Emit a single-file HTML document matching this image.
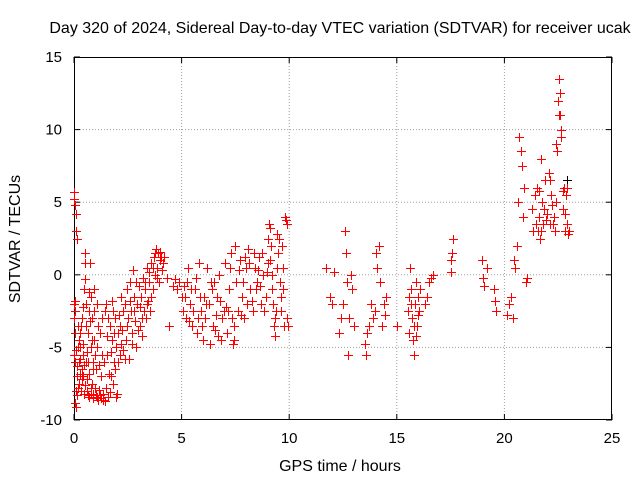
<!DOCTYPE html>
<html><head><meta charset="utf-8">
<style>
html,body{margin:0;padding:0;background:#fff;}
svg{display:block;font-family:"Liberation Sans",sans-serif;}
</style></head>
<body>
<svg id="chart" width="640" height="480" viewBox="0 0 640 480">
<rect x="0" y="0" width="640" height="480" fill="#fff"/>
<text x="340" y="33" font-size="16" text-anchor="middle">Day 320 of 2024, Sidereal Day-to-day VTEC variation (SDTVAR) for receiver ucak</text>
<g id="grid"></g>
<g id="axes"></g>
<g id="black-series"></g>
<g id="red-series"></g>
<text x="340" y="471" font-size="16" text-anchor="middle">GPS time / hours</text>
<text x="0" y="0" font-size="16" text-anchor="middle" transform="translate(20,239) rotate(-90)">SDTVAR / TECUs</text>
</svg>
<script>
const xTicks=[0,5,10,15,20,25];
const yTicks=[-10,-5,0,5,10,15];
const xTickLabels=["0","5","10","15","20","25"];
const yTickLabels=["-10","-5","0","5","10","15"];
const redPairs=[0.0,5.7,0.02,5.2,0.05,4.8,0.08,4.2,0.1,3.0,0.12,2.5,0.0,-2,0.02,-3,0.05,-4,0.0,-5.5,0.03,-6,0.05,-8.8,0.08,-9.1,0.1,-8,0.15,-7,0.18,-5,0.2,-3.5,0.22,-6,0.25,-7.5,0.28,-5,0.3,-4,0.32,-8,0.35,-6.5,0.38,-3,0.4,-7,0.42,-5.5,0.45,-8.2,0.48,-1,0.5,1.5,0.52,0.8,0.55,-2,0.58,-6,0.6,-8,0.62,-7.2,0.65,-4,0.68,-2.5,0.7,-6.8,0.72,-8.4,0.75,0.8,0.78,-1.5,0.8,-5,0.82,-7.5,0.85,-3,0.88,-8.5,0.9,-6,0.92,-1,0.95,-4.5,0.98,-7.8,1.0,-8.3,1.05,-2,1.08,-5,1.1,-8.6,1.15,-7.9,1.2,-4,1.25,-8.5,1.3,-3,1.35,-8.2,1.4,-6,1.45,-8.7,1.5,-2,1.55,-5.5,1.6,-8.4,1.65,-3.5,1.7,-7,1.75,-4.5,1.8,-2.5,1.85,-6,1.9,-3,1.95,-5,2.0,-8.2,2.05,-4,2.1,-2.8,2.15,-5.5,2.2,-1.5,2.25,-3.8,2.3,-5.2,2.35,-2,2.4,-4.5,2.45,-1,2.5,-3,2.55,-5.8,2.6,-0.5,2.65,-2.5,2.7,-4,2.75,0.3,2.8,-1.5,2.85,-3.2,2.9,-5,2.95,-2,3.0,-0.8,3.05,-3.5,3.1,-1.5,3.15,-4.2,3.2,-0.2,3.25,-2.5,3.3,-1,3.35,-3,3.4,0.5,3.45,-1.8,3.5,-0.5,3.55,-2.5,3.6,0.8,3.65,-1,3.7,1.2,3.75,0,3.8,1.8,3.85,0.5,3.9,1.5,3.95,-0.5,4.0,1.6,4.1,0.3,4.2,1.2,4.3,-0.2,4.4,-3.5,4.6,-0.8,4.7,-0.3,4.8,-1,4.9,-0.5,5.0,-1.5,
5.1,-0.8,5.2,-3,5.3,0.5,5.4,-2,5.5,-3.5,5.6,-1,5.7,-4,5.8,0.8,5.9,-2.5,6.0,-4.5,6.05,-1.5,6.1,-3,6.2,0.5,6.25,-2,6.3,-4.8,6.4,-1,6.45,-3.5,6.5,-0.5,6.6,-2.8,6.7,-4.2,6.75,0,6.8,-1.8,6.9,-3,7.0,0.8,7.05,-2.2,7.1,-4,7.2,-1,7.3,1.5,7.35,-3,7.4,-4.8,7.45,-4.5,7.5,2,7.55,-0.5,7.6,-2.5,7.7,1,7.8,-1.5,7.9,-3,8.0,0.5,8.1,1.8,8.2,-1,8.3,-2.5,8.4,0.5,8.5,-0.5,8.6,1.2,8.7,-2,8.8,0,8.9,-1.5,9.0,0.8,9.05,3.5,9.1,3.2,9.15,2,9.2,0,9.25,-2,9.3,-3.5,9.35,-4.2,9.4,-2.5,9.45,2.8,9.5,1.5,9.55,-0.5,9.6,-1.5,9.65,2,9.7,0.5,9.8,4,9.85,3.8,9.9,-3,9.95,-3.5,
11.7,0.5,11.9,-1.5,12.0,-2,12.1,0.2,12.3,-4,12.4,-3,12.5,-2,12.6,3,12.65,1.5,12.7,-0.5,12.75,-5.5,12.8,-3,12.85,0,12.9,-1,13.0,-3.5,13.5,-4.8,13.55,-5.5,13.6,-4,13.7,-3.5,13.8,-2,13.9,-3,14.0,-2.5,14.05,1.5,14.1,0.5,14.15,2,14.2,-0.5,14.3,-3.5,14.4,-2,14.45,-2.8,14.5,-1.5,15.0,-3.5,15.5,-2.5,15.55,-4,15.6,0.5,15.65,-1,15.7,-3,15.75,-4.5,15.8,-5.5,15.85,-2,15.9,-0.5,15.95,-3.5,16.0,-1.5,16.05,-2.5,16.1,-1,16.3,-2,16.4,-1.5,16.5,-0.5,16.6,-0.2,16.7,0,17.5,0.2,17.55,1.5,17.6,2.5,17.5,1,18.95,1,19.0,-0.2,19.05,-0.8,19.2,0.5,19.5,-1,19.55,-1.8,19.6,-2.5,20.1,-2.8,20.2,-2,20.3,-1.5,20.4,-3,20.45,1,20.5,0.5,20.6,2,20.65,5,20.7,9.5,20.75,8.5,20.8,7.5,20.85,4,20.9,6,21.0,-0.5,21.05,-0.2,21.3,4.5,21.4,5.5,21.5,6,21.55,3,21.6,4,21.65,2.5,21.7,8,21.75,5,21.8,3.5,21.9,6.5,22.0,4.2,22.05,7,22.1,3.5,22.15,5.5,22.2,4.8,22.3,4,22.35,3,22.4,9,22.45,8.5,22.5,12,22.55,13.5,22.6,11,22.65,10,22.7,4.5,22.75,6,22.8,3,22.85,5.5,22.9,3.5,22.95,2.8];
const redExtraPairs=[0.03,-1.8,0.06,-2.5,0.09,-5.2,0.13,-6.3,0.16,-8.3,0.2,-7.8,0.23,-4.5,0.27,-6.8,0.3,-5.8,0.33,-3.5,0.36,-7.2,0.4,-4.8,0.43,-2.2,0.46,-6.2,0.5,-7.6,0.53,-0.3,0.56,-3.5,0.6,-5.3,0.63,-8.3,0.66,-6,0.7,-1.2,0.73,-3.2,0.77,-7.8,0.8,-8.2,0.84,-4.5,0.87,-6.5,0.9,-8.2,0.94,-2.5,0.97,-5.5,
1.02,-6.5,1.07,-8.4,1.12,-3.5,1.17,-6.2,1.22,-8.3,1.27,-7,1.32,-5.5,1.37,-8.6,1.42,-2.5,1.47,-7.8,1.52,-4.2,1.57,-3,1.62,-6.8,1.67,-8.1,1.72,-5.3,1.77,-1.8,1.82,-7.5,1.87,-4,1.92,-6.5,1.97,-8.4,
2.03,-6,2.12,-3.5,2.18,-4.8,2.28,-2.5,2.38,-5.8,2.48,-3.5,2.58,-1.8,2.68,-4.8,2.78,-2.5,2.88,-0.5,2.98,-3.8,
3.08,-2.2,3.18,-3,3.28,-0.5,3.38,-2,3.48,0.2,3.58,-1.5,3.68,0.5,3.78,1.5,3.88,-0.2,3.98,1.0,4.05,1.2,4.15,0.8,
5.05,-2.5,5.15,-1.5,5.25,-0.5,5.35,-3.2,5.45,-1,5.55,-2.5,5.65,-0.2,5.75,-3,5.85,-1.5,5.95,-3.5,6.15,-2,6.35,-0.5,6.55,-3.8,6.65,-1.5,6.85,-4.5,6.95,-2.5,
7.15,-2.5,7.25,0.5,7.42,-3.5,7.65,0.3,7.75,-2.8,7.85,-0.5,7.95,1.2,8.05,-2,8.15,0.8,8.25,-1.8,8.35,1.5,8.45,-1,8.55,0.3,8.65,-0.8,8.75,1.5,8.85,-2.5,8.95,0.2,
9.02,2.5,9.12,1,9.22,-1,9.32,-3,9.42,0.5,9.52,2.5,9.62,-2.5,9.72,-1,9.78,-3.5,9.88,3.5,
15.58,-1.5,15.68,-2,15.78,-3.5,15.88,-4.2,15.98,-2.8,
21.35,3,21.45,3.5,21.62,5.8,21.72,3,21.85,4.5,21.95,3.8,22.12,6.5,22.25,3.5,22.42,5,22.52,11,22.58,12.5,22.62,9.5,22.72,5.8,22.82,4.2,22.92,6,22.98,3];
const blackPairs=[0.1,3.0,1.2,-4,7.5,2,9.2,0,12.6,3,13.55,-5.5,14.15,2,19.6,-2.5,20.6,2,20.8,7.5,22.9,6.5,22.6,11];

const L=74,R=612,T=57,B=420;
function xs(v){return L+(v-0)/(25-0)*(R-L);}
function ys(v){return B-(v+10)/(15+10)*(B-T);}
const NS="http://www.w3.org/2000/svg";
function mk(tag,attrs,parent){const e=document.createElementNS(NS,tag);for(const k in attrs)e.setAttribute(k,attrs[k]);parent.appendChild(e);return e;}
const grid=document.getElementById('grid'),axes=document.getElementById('axes');
xTicks.forEach((t,i)=>{
  const x=xs(t);
  if(i>0&&i<xTicks.length-1){const g=mk('line',{x1:x,y1:T,x2:x,y2:B,stroke:'#a0a0a0','stroke-dasharray':'1,2','stroke-width':1},grid);
  
  }
  mk('line',{x1:x,y1:B,x2:x,y2:B-6,stroke:'#000'},axes);
  mk('line',{x1:x,y1:T,x2:x,y2:T+6,stroke:'#000'},axes);
  const tx=mk('text',{x:x,y:B+23,'font-size':15,'text-anchor':'middle'},axes);
  tx.textContent=xTickLabels[i];
  
  
});
yTicks.forEach((t,i)=>{
  const y=ys(t);
  if(i>0&&i<yTicks.length-1){const g=mk('line',{x1:L,y1:y,x2:R,y2:y,stroke:'#a0a0a0','stroke-dasharray':'1,2','stroke-width':1},grid);
  
  }
  mk('line',{x1:L,y1:y,x2:L+6,y2:y,stroke:'#000'},axes);
  mk('line',{x1:R,y1:y,x2:R-6,y2:y,stroke:'#000'},axes);
  const tx=mk('text',{x:L-12,y:y+5,'font-size':15,'text-anchor':'end'},axes);
  tx.textContent=yTickLabels[i];
  
  
});
const fr=mk('rect',{x:L+0.5,y:T+0.5,width:R-L-1,height:B-T-1,fill:'none',stroke:'#000'},axes);


function drawSeries(pairs,gid,color,name,dx){
  const g=document.getElementById(gid);
  for(let i=0;i<pairs.length;i+=2){
    const x=Math.round(xs(pairs[i]))+0.5+dx,y=Math.round(ys(pairs[i+1]))+0.5;
    const p=mk('path',{d:`M${x-4.5},${y}H${x+4.5}M${x},${y-4.5}V${y+4.5}`,stroke:color,'stroke-width':1,fill:'none'},g);
    
    
  }
}
drawSeries(blackPairs,'black-series','#000','black-point',0);
drawSeries(redPairs,'red-series','#ff0000','red-point',0);
drawSeries(redExtraPairs,'red-series','#ff0000','red-point',0);
</script>
</body></html>
